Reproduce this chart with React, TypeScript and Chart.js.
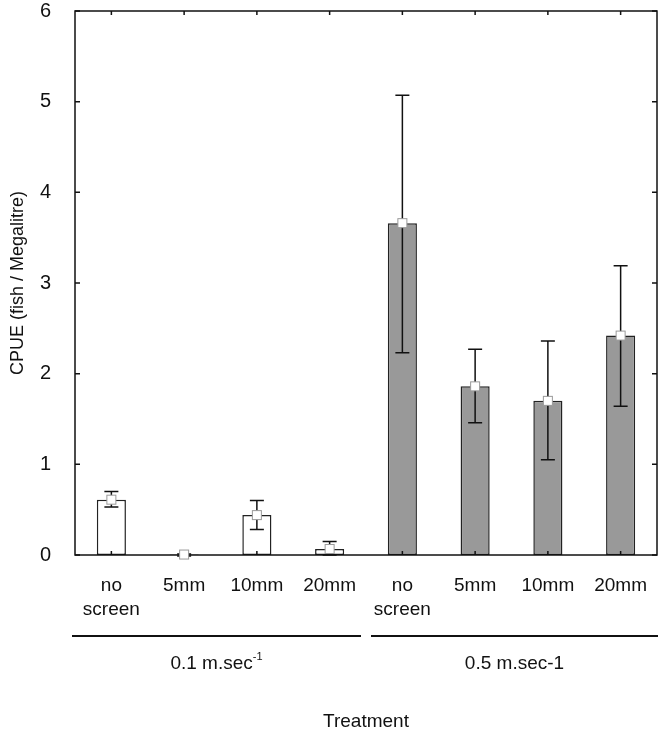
import { useEffect, useRef } from "react";
import { Chart, registerables } from "chart.js";

Chart.register(...registerables);

const categories: (string | string[])[] = [
  ["no", "screen"], "5mm", "10mm", "20mm",
  ["no", "screen"], "5mm", "10mm", "20mm",
];
const means = [0.61, 0.005, 0.44, 0.066, 3.66, 1.86, 1.7, 2.42];
const errLow = [0.53, -0.01, 0.28, 0.0, 2.23, 1.46, 1.05, 1.64];
const errHigh = [0.7, 0.01, 0.6, 0.15, 5.07, 2.27, 2.36, 3.19];
const barFill = ["#ffffff", "#ffffff", "#ffffff", "#ffffff", "#999999", "#999999", "#999999", "#999999"];
const groupMain = ["0.1 m.sec", "0.5 m.sec-1"];
const groupSup = ["-1", ""];
const groupStart = [0, 4];
const groupEnd = [3, 7];
const yTickValues = [0, 1, 2, 3, 4, 5, 6];
const xTitle = "Treatment";
const yTitle = "CPUE (fish / Megalitre)";

const FONT = "'Liberation Sans', Arial, sans-serif";

const overlay = {
  id: "overlay",
  afterDatasetsDraw(chart: any) {
    const ctx = chart.ctx;
    const ca = chart.chartArea;
    const xs = chart.scales.x;
    const ys = chart.scales.y;
    const meta = chart.getDatasetMeta(0);
    ctx.save();
    // error bars
    ctx.strokeStyle = "#111";
    ctx.lineWidth = 1.5;
    meta.data.forEach((bar: any, i: number) => {
      const x = bar.x;
      const yl = ys.getPixelForValue(errLow[i]);
      const yh = ys.getPixelForValue(errHigh[i]);
      ctx.beginPath();
      ctx.moveTo(x, yl);
      ctx.lineTo(x, yh);
      ctx.moveTo(x - 7, yl);
      ctx.lineTo(x + 7, yl);
      ctx.moveTo(x - 7, yh);
      ctx.lineTo(x + 7, yh);
      ctx.stroke();
    });
    // frame
    ctx.lineWidth = 1.5;
    ctx.strokeStyle = "#111";
    ctx.strokeRect(ca.left, ca.top, ca.right - ca.left, ca.bottom - ca.top);
    // ticks
    ctx.beginPath();
    meta.data.forEach((bar: any) => {
      ctx.moveTo(bar.x, ca.bottom);
      ctx.lineTo(bar.x, ca.bottom - 4);
      ctx.moveTo(bar.x, ca.top);
      ctx.lineTo(bar.x, ca.top + 4);
    });
    yTickValues.forEach((v) => {
      const y = ys.getPixelForValue(v);
      ctx.moveTo(ca.left, y);
      ctx.lineTo(ca.left + 5, y);
      ctx.moveTo(ca.right, y);
      ctx.lineTo(ca.right - 5, y);
    });
    ctx.stroke();
    // markers
    meta.data.forEach((bar: any, i: number) => {
      const x = bar.x;
      const y = ys.getPixelForValue(means[i]);
      ctx.fillStyle = "#ffffff";
      ctx.fillRect(x - 4.5, y - 4.5, 9, 9);
      ctx.strokeStyle = "#9a9a9a";
      ctx.lineWidth = 1;
      ctx.strokeRect(x - 4.5, y - 4.5, 9, 9);
    });
    // group lines and labels
    const step = xs.getPixelForValue(1) - xs.getPixelForValue(0);
    const lineY = 636;
    ctx.strokeStyle = "#111";
    ctx.lineWidth = 2;
    ctx.fillStyle = "#111";
    ctx.textBaseline = "middle";
    groupMain.forEach((label, g) => {
      const l = xs.getPixelForValue(groupStart[g]) - step / 2;
      const r = xs.getPixelForValue(groupEnd[g]) + step / 2;
      const x1 = g === 0 ? l - 3 : l + 5;
      const x2 = g === 0 ? r - 5 : r + 1;
      ctx.beginPath();
      ctx.moveTo(x1, lineY);
      ctx.lineTo(x2, lineY);
      ctx.stroke();
      const cx = (x1 + x2) / 2;
      ctx.font = `19px ${FONT}`;
      const w1 = ctx.measureText(label).width;
      ctx.font = `11px ${FONT}`;
      const w2 = groupSup[g] ? ctx.measureText(groupSup[g]).width : 0;
      const start = cx - (w1 + w2) / 2;
      ctx.font = `19px ${FONT}`;
      ctx.textAlign = "left";
      ctx.fillText(label, start, 664);
      if (groupSup[g]) {
        ctx.font = `11px ${FONT}`;
        ctx.fillText(groupSup[g], start + w1, 657);
      }
    });
    ctx.font = `19px ${FONT}`;
    ctx.textAlign = "center";
    ctx.fillText(xTitle, (ca.left + ca.right) / 2, 722);
    ctx.restore();
  },
};

export default function App() {
  const ref = useRef<HTMLCanvasElement>(null);
  useEffect(() => {
    document.body.style.margin = "0";
    const chart = new Chart(ref.current!, {
      type: "bar",
      data: {
        labels: categories as any,
        datasets: [
          {
            data: means,
            backgroundColor: barFill,
            borderColor: "#222",
            borderWidth: 1.5,
            borderSkipped: false,
            barPercentage: 0.4,
            categoryPercentage: 1,
          },
        ],
      },
      options: {
        animation: false,
        responsive: false,
        maintainAspectRatio: false,
        layout: { padding: { top: 11, right: 7, left: 0, bottom: 0 } },
        plugins: { legend: { display: false }, tooltip: { enabled: false } },
        scales: {
          x: {
            offset: true,
            grid: { display: false },
            border: { display: false },
            ticks: {
              color: "#111",
              font: { family: FONT, size: 19, lineHeight: 1.25 },
              padding: 11,
              maxRotation: 0,
              autoSkip: false,
            },
            afterFit(scale: any) {
              scale.height = 180;
              scale.paddingLeft = 0;
              scale.paddingRight = 0;
            },
          },
          y: {
            min: 0,
            max: 6,
            grid: { display: false },
            border: { display: false },
            ticks: {
              stepSize: 1,
              color: "#111",
              font: { family: FONT, size: 20 },
              padding: 16,
            },
            title: {
              display: true,
              text: yTitle,
              color: "#111",
              font: { family: FONT, size: 18 },
              padding: { top: 7, bottom: 4 },
            },
            afterFit(scale: any) {
              scale.width = 75;
              scale.paddingTop = 0;
              scale.paddingBottom = 0;
            },
          },
        },
      },
      plugins: [overlay],
    });
    return () => chart.destroy();
  }, []);
  return (
    <div style={{ width: 664, height: 735, background: "#fff" }}>
      <canvas ref={ref} width={664} height={735} style={{ display: "block" }} />
    </div>
  );
}
